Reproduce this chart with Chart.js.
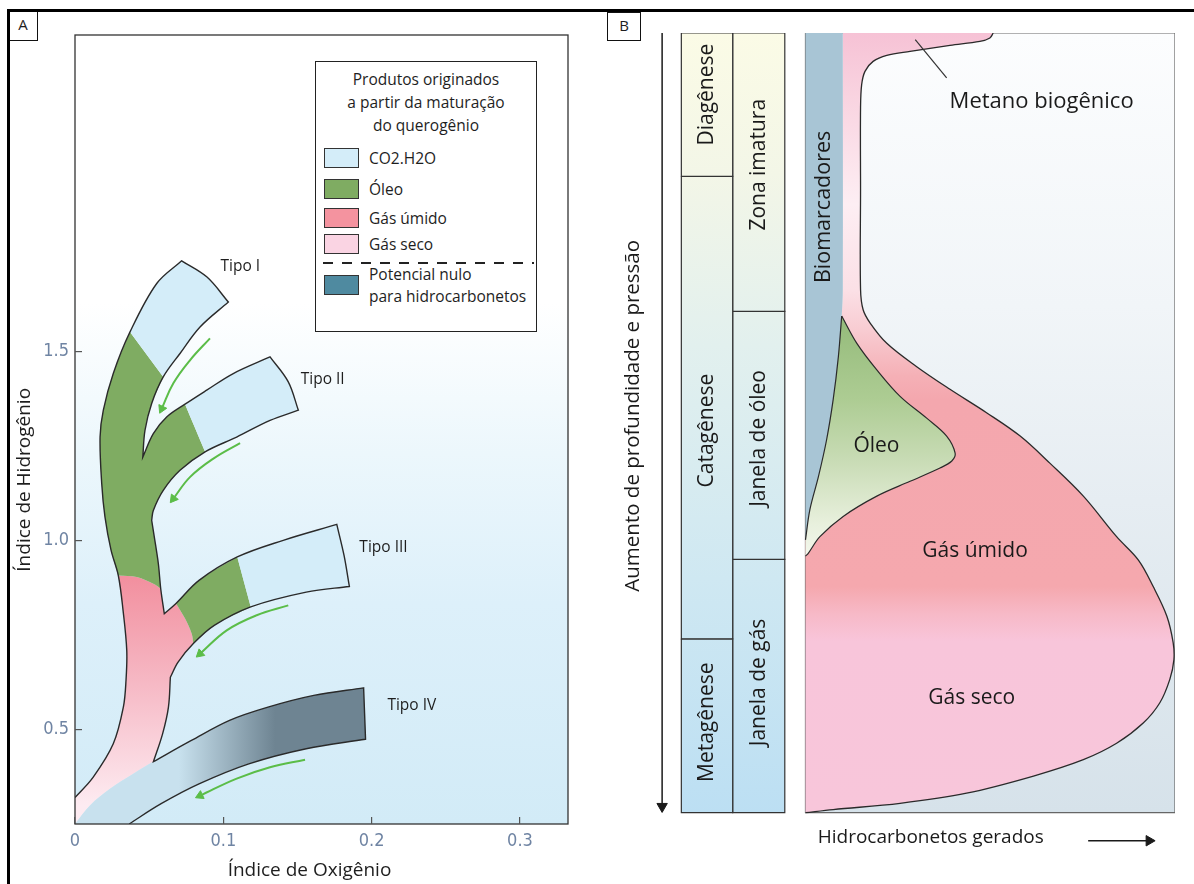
<!DOCTYPE html>
<html lang="pt">
<head>
<meta charset="utf-8">
<title>Maturação do querogênio</title>
<script src="https://cdn.jsdelivr.net/npm/chart.js@4.4.1/dist/chart.umd.min.js"></script>
<style>
  html, body { margin: 0; padding: 0; background: #fff; }
  #page { position: relative; width: 1194px; height: 884px; overflow: hidden; font-family: 'Open Sans', sans-serif; color: #1e1e1e; }
  canvas { position: absolute; top: 0; }
  #chartA { left: 0; }
  #chartB { left: 600px; }
  #frame { position: absolute; left: 7px; top: 9px; right: 0; bottom: 0; border-top: 3px solid #000; border-left: 3px solid #000; pointer-events: none; }
  .tag { position: absolute; box-sizing: border-box; border: 1.5px solid #111; background: #fff; font-size: 15px; line-height: 25px; text-align: center; }
  #tagA { left: 8px; top: 11px; width: 30px; height: 30px; }
  #tagB { left: 607px; top: 12px; width: 34px; height: 29px; }
  #legendA { position: absolute; left: 315px; top: 61px; width: 222px; height: 271px; box-sizing: border-box; border: 1.5px solid #222; background: #fff; font-size: 15.5px; }
  #legendA .title { text-align: center; line-height: 23px; margin-top: 6px; }
  #legendA .row { position: absolute; left: 8px; display: flex; align-items: center; line-height: 22px; white-space: pre-line; }
  #legendA .sw { width: 35px; height: 20px; box-sizing: border-box; border: 1.5px solid #333; margin-right: 10px; flex: none; }
  #legendA .dash { position: absolute; left: 7px; width: 211px; height: 1.5px; background: repeating-linear-gradient(to right, #222 0 10px, transparent 10px 19px); }
</style>
</head>
<body>
<div id="page">
  <canvas id="chartA" width="600" height="884"></canvas>
  <canvas id="chartB" width="594" height="884"></canvas>
  <div id="legendA"></div>
  <div class="tag" id="tagA">A</div>
  <div class="tag" id="tagB">B</div>
  <div id="frame"></div>
</div>
<script>
Chart.defaults.font.family = "'Open Sans', sans-serif";
Chart.defaults.color = '#1e1e1e';

// ---- painel A: índice de hidrogênio x índice de oxigênio ----
const xTicksA = [0, 0.1, 0.2, 0.3];
const yTicksA = [0.5, 1.0, 1.5];

// contorno dos caminhos de maturação (ponto repetido = canto vivo)
const kerogenOutline = [
  [0, 0.320], [0.0123, 0.374], [0.0258, 0.462], [0.0326, 0.559], [0.0344, 0.630], [0.0349, 0.709],
  [0.0324, 0.815], [0.0292, 0.907], [0.0243, 0.974], [0.0202, 1.062], [0.0180, 1.151], [0.0169, 1.273],
  [0.0191, 1.344], [0.0258, 1.441], [0.0371, 1.551], [0.0551, 1.679], [0.0719, 1.739], [0.0719, 1.739],
  [0.0890, 1.696], [0.1034, 1.630], [0.1034, 1.630],
  [0.0843, 1.564], [0.0708, 1.494], [0.0595, 1.432], [0.0517, 1.362], [0.0472, 1.291], [0.0457, 1.220], [0.0457, 1.220],
  [0.0528, 1.282], [0.0618, 1.326], [0.0742, 1.360], [0.0888, 1.397], [0.1067, 1.441], [0.1315, 1.485], [0.1315, 1.485],
  [0.1438, 1.419], [0.1506, 1.344], [0.1506, 1.344],
  [0.1315, 1.317], [0.1090, 1.273], [0.0877, 1.234], [0.0708, 1.185], [0.0595, 1.132], [0.0528, 1.079], [0.0517, 1.053], [0.0517, 1.053],
  [0.0533, 1.013], [0.0562, 0.938], [0.0578, 0.872], [0.0602, 0.806], [0.0602, 0.806],
  [0.0681, 0.833], [0.0836, 0.894], [0.1094, 0.956], [0.1404, 1.000], [0.1765, 1.042], [0.1765, 1.042],
  [0.1814, 0.960], [0.1850, 0.878], [0.1850, 0.878],
  [0.1559, 0.863], [0.1185, 0.824], [0.0939, 0.775], [0.0798, 0.727], [0.0695, 0.678], [0.0643, 0.638], [0.0643, 0.638],
  [0.0630, 0.559], [0.0591, 0.489], [0.0529, 0.415], [0.0529, 0.415],
  [0.0785, 0.471], [0.1042, 0.524], [0.1301, 0.559], [0.1610, 0.590], [0.1946, 0.610], [0.1946, 0.610],
  [0.1959, 0.474], [0.1959, 0.474],
  [0.1559, 0.449], [0.1172, 0.409], [0.0836, 0.356], [0.0578, 0.303], [0.0365, 0.250]
];

const tipoICO2 = [
  [0.0371, 1.551], [0.0371, 1.551], [0.0551, 1.679], [0.0719, 1.739], [0.0719, 1.739], [0.0890, 1.696],
  [0.1034, 1.630], [0.1034, 1.630], [0.0843, 1.564], [0.0708, 1.494], [0.0595, 1.432], [0.0595, 1.432], [0.0371, 1.551]
];
const tipoIICO2 = [
  [0.0742, 1.360], [0.0742, 1.360], [0.0888, 1.397], [0.1067, 1.441], [0.1315, 1.485], [0.1315, 1.485], [0.1438, 1.419],
  [0.1506, 1.344], [0.1506, 1.344], [0.1315, 1.317], [0.1090, 1.273], [0.0877, 1.234], [0.0877, 1.234], [0.0742, 1.360]
];
const tipoIIICO2 = [
  [0.1094, 0.956], [0.1094, 0.956], [0.1404, 1.000], [0.1765, 1.042], [0.1765, 1.042], [0.1814, 0.960],
  [0.1850, 0.878], [0.1850, 0.878], [0.1559, 0.863], [0.1185, 0.824], [0.1185, 0.824], [0.1094, 0.956]
];
const oilTrunk = [
  [0.0371, 1.551], [0.0371, 1.551], [0.0258, 1.441], [0.0191, 1.344], [0.0169, 1.273], [0.0180, 1.151],
  [0.0202, 1.062], [0.0243, 0.974], [0.0292, 0.907], [0.0292, 0.907], [0.0416, 0.903], [0.0528, 0.885],
  [0.0578, 0.872], [0.0578, 0.872], [0.0562, 0.938], [0.0533, 1.013], [0.0517, 1.053], [0.0517, 1.053],
  [0.0528, 1.079], [0.0595, 1.132], [0.0708, 1.185], [0.0877, 1.234], [0.0877, 1.234], [0.0742, 1.360],
  [0.0742, 1.360], [0.0618, 1.326], [0.0528, 1.282], [0.0457, 1.220], [0.0457, 1.220], [0.0472, 1.291],
  [0.0517, 1.362], [0.0595, 1.432], [0.0595, 1.432], [0.0371, 1.551]
];
const oilTipoIII = [
  [0.0681, 0.833], [0.0681, 0.833], [0.0836, 0.894], [0.1094, 0.956], [0.1094, 0.956], [0.1185, 0.824],
  [0.1185, 0.824], [0.0939, 0.775], [0.0798, 0.727], [0.0798, 0.727], [0.0787, 0.753], [0.0742, 0.793], [0.0681, 0.833]
];
const gasTrunk = [
  [0.0292, 0.907], [0.0292, 0.907], [0.0324, 0.815], [0.0349, 0.709], [0.0344, 0.630], [0.0326, 0.559],
  [0.0258, 0.462], [0.0123, 0.374], [0, 0.320], [0, 0.320], [0, 0.25], [0, 0.25], [0.0101, 0.299],
  [0.0236, 0.343], [0.0393, 0.383], [0.0529, 0.415], [0.0529, 0.415], [0.0591, 0.489], [0.0630, 0.559],
  [0.0643, 0.638], [0.0643, 0.638], [0.0695, 0.678], [0.0798, 0.727], [0.0798, 0.727], [0.0787, 0.753],
  [0.0742, 0.793], [0.0681, 0.833], [0.0681, 0.833], [0.0602, 0.806], [0.0602, 0.806], [0.0578, 0.872],
  [0.0578, 0.872], [0.0528, 0.885], [0.0416, 0.903], [0.0292, 0.907]
];
const tipoIV = [
  [0, 0.25], [0, 0.25], [0.0101, 0.299], [0.0236, 0.343], [0.0393, 0.383], [0.0529, 0.415], [0.0785, 0.471],
  [0.1042, 0.524], [0.1301, 0.559], [0.1610, 0.590], [0.1946, 0.610], [0.1946, 0.610], [0.1959, 0.474],
  [0.1959, 0.474], [0.1559, 0.449], [0.1172, 0.409], [0.0836, 0.356], [0.0578, 0.303], [0.0365, 0.250],
  [0.0365, 0.250], [0, 0.25]
];

const arrowI = [[0.0910, 1.534], [0.0775, 1.476], [0.0663, 1.415], [0.0585, 1.348]];
const arrowII = [[0.1113, 1.257], [0.0933, 1.216], [0.0775, 1.167], [0.0663, 1.110]];
const arrowIII = [[0.1438, 0.828], [0.1225, 0.802], [0.1023, 0.762], [0.0843, 0.700]];
const arrowIV = [[0.1551, 0.420], [0.1315, 0.400], [0.1090, 0.370], [0.0843, 0.325]];

const legendTitle = ['Produtos originados', 'a partir da maturação', 'do querogênio'];
const legendLabels = ['CO2.H2O', 'Óleo', 'Gás úmido', 'Gás seco', 'Potencial nulo\npara hidrocarbonetos'];
const legendColors = ['#d4edf9', '#7fac62', '#f4939f', '#fad4e3', '#4f8aa0'];

// ---- painel B: geração de hidrocarbonetos com a profundidade ----
const stageNames = ['Diagênese', 'Catagênese', 'Metagênese'];
const stageLimits = [0, 18.4, 77.7, 100];
const windowNames = ['Zona imatura', 'Janela de óleo', 'Janela de gás'];
const windowLimits = [0, 35.7, 67.5, 100];

const gasEnvelope = [
  [50.8, 0], [49.9, 0.64], [47.2, 1.08], [39.1, 1.59], [28.3, 2.36], [22.0, 2.87], [18.3, 3.64], [16.1, 4.92],
  [15.2, 6.63], [14.9, 9.62], [14.9, 20], [14.9, 32.9], [15.6, 35.5], [17.5, 37.2], [22.0, 39.8], [30.1, 42.8],
  [39.1, 45.7], [49.0, 48.7], [58.1, 51.7], [66.2, 55.2], [75.2, 59.4], [84.2, 64.6], [90.1, 67.6], [94.1, 71.0],
  [97.8, 74.8], [99.5, 78.2], [99.7, 80.4], [98.6, 82.9], [95.9, 85.9], [91.4, 88.5], [84.2, 91.1], [75.2, 93.2],
  [61.7, 95.3], [43.6, 97.5], [25.6, 98.8], [7.5, 99.6], [0, 100]
];
const biomarkerEdge = [[10.1, 0], [10.1, 32.9], [9.8, 36.3], [8.9, 41.5], [7.5, 47.0], [5.7, 52.2], [3.5, 56.9], [1.2, 61.1], [0, 65]];
const oilEdge = [
  [9.8, 36.3], [13.9, 39.8], [19.3, 43.2], [25.6, 46.6], [32.8, 49.4], [38.2, 51.7], [40.5, 53.9], [39.6, 54.9],
  [36.4, 55.8], [28.3, 57.5], [19.3, 59.4], [10.2, 62.0], [3.9, 64.6], [0.8, 66.7], [0, 67.1]
];
const methaneLeader = [[29.7, 0.86], [38.2, 5.77]];
const depthArrow = [[-38.8, 0], [-38.8, 99.2]];
const generatedArrow = [[76.5, 103.6], [93.0, 103.6]];

// ---------- helpers ----------
const toXY = (pts) => pts.map(([x, y]) => ({ x, y }));

function area(points, color, tension) {
  return {
    data: toXY(points), fill: 'shape', backgroundColor: color, borderColor: 'transparent', borderWidth: 0,
    pointRadius: 0, pointHoverRadius: 0, tension: tension === undefined ? 0.35 : tension
  };
}
function stroke(points, color, width, tension) {
  return {
    data: toXY(points), fill: false, borderColor: color, borderWidth: width,
    pointRadius: 0, pointHoverRadius: 0, tension: tension === undefined ? 0.35 : tension
  };
}
function headRotation(c) {
  const pts = c.dataset.data;
  const i = pts.length - 1;
  if (i < 1) return 0;
  const xs = c.chart.scales.x, ys = c.chart.scales.y;
  const dx = xs.getPixelForValue(pts[i].x) - xs.getPixelForValue(pts[i - 1].x);
  const dy = ys.getPixelForValue(pts[i].y) - ys.getPixelForValue(pts[i - 1].y);
  return Math.atan2(dx, -dy) * 180 / Math.PI;
}
function arrow(points, color, width, head) {
  return {
    data: toXY(points), fill: false, borderColor: color, borderWidth: width, tension: 0.4, clip: false,
    pointStyle: 'triangle', pointRotation: headRotation, pointBackgroundColor: color, pointBorderColor: color,
    pointBorderWidth: 1, pointHoverRadius: 0,
    pointRadius: (c) => (c.dataIndex === c.dataset.data.length - 1 ? head : 0)
  };
}
const vGrad = (stops) => (c) => {
  const ch = c.chart;
  if (!ch.chartArea) return stops[0][1];
  const ys = ch.scales.y;
  const p0 = ys.getPixelForValue(stops[0][0]);
  const p1 = ys.getPixelForValue(stops[stops.length - 1][0]);
  const g = ch.ctx.createLinearGradient(0, p0, 0, p1);
  stops.forEach(([v, col]) => g.addColorStop((ys.getPixelForValue(v) - p0) / (p1 - p0), col));
  return g;
};
const hGrad = (stops) => (c) => {
  const ch = c.chart;
  if (!ch.chartArea) return stops[0][1];
  const xs = ch.scales.x;
  const p0 = xs.getPixelForValue(stops[0][0]);
  const p1 = xs.getPixelForValue(stops[stops.length - 1][0]);
  const g = ch.ctx.createLinearGradient(p0, 0, p1, 0);
  stops.forEach(([v, col]) => g.addColorStop((xs.getPixelForValue(v) - p0) / (p1 - p0), col));
  return g;
};
function textLabels(items, font, color) {
  return {
    id: 'textLabels',
    afterDraw(chart) {
      const { ctx, scales: { x, y } } = chart;
      ctx.save();
      ctx.fillStyle = color;
      ctx.textAlign = 'center';
      ctx.textBaseline = 'middle';
      for (const it of items) {
        ctx.save();
        ctx.font = it.font || font;
        ctx.translate(x.getPixelForValue(it.x), y.getPixelForValue(it.y));
        if (it.rotate) ctx.rotate(it.rotate * Math.PI / 180);
        ctx.fillText(it.text, 0, 0);
        ctx.restore();
      }
      ctx.restore();
    }
  };
}

// ---------- painel A ----------
const plotBackground = {
  id: 'plotBackground',
  beforeDraw(chart) {
    const { ctx, chartArea: a } = chart;
    const g = ctx.createLinearGradient(0, a.top, 0, a.bottom);
    g.addColorStop(0, '#ffffff');
    g.addColorStop(0.34, '#ffffff');
    g.addColorStop(0.53, '#ecf7fc');
    g.addColorStop(0.72, '#ddf0fa');
    g.addColorStop(1, '#d2ebf7');
    ctx.save();
    ctx.fillStyle = g;
    ctx.fillRect(a.left, a.top, a.right - a.left, a.bottom - a.top);
    ctx.restore();
  }
};
const plotFrame = {
  id: 'plotFrame',
  afterDatasetsDraw(chart) {
    const { ctx, chartArea: a } = chart;
    ctx.save();
    ctx.strokeStyle = '#333';
    ctx.lineWidth = 1.3;
    ctx.strokeRect(a.left, a.top, a.right - a.left, a.bottom - a.top);
    ctx.restore();
  }
};

const labelsA = [
  { text: 'Tipo I', x: 0.1115, y: 1.725 },
  { text: 'Tipo II', x: 0.1670, y: 1.425 },
  { text: 'Tipo III', x: 0.2080, y: 0.980 },
  { text: 'Tipo IV', x: 0.2271, y: 0.562 },
  { text: 'Índice de Hidrogênio', x: -0.0337, y: 1.16, rotate: -90, font: '19px "Open Sans"' },
  { text: 'Índice de Oxigênio', x: 0.1581, y: 0.127, font: '19px "Open Sans"' }
];

const green = '#5bbd48';
const tickFont = { family: "'Liberation Sans Narrow', 'DejaVu Sans Condensed', sans-serif", size: 18 };

new Chart(document.getElementById('chartA'), {
  type: 'line',
  data: {
    datasets: [
      arrow(arrowI, green, 2, 5),
      arrow(arrowII, green, 2, 5),
      arrow(arrowIII, green, 2, 5),
      arrow(arrowIV, green, 2, 5),
      stroke(kerogenOutline, '#2a2a2a', 1.4),
      area(tipoIV, hGrad([[0.07, '#c8e1ee'], [0.135, '#6e8492']])),
      area(tipoICO2, legendColors[0]),
      area(tipoIICO2, legendColors[0]),
      area(tipoIIICO2, legendColors[0]),
      area(oilTrunk, legendColors[1]),
      area(oilTipoIII, legendColors[1]),
      area(gasTrunk, vGrad([[0.9, '#f2909f'], [0.62, '#f6b9c5'], [0.3, '#fdebf1']]))
    ]
  },
  options: {
    responsive: false,
    animation: false,
    events: [],
    layout: { autoPadding: false, padding: { left: 35, right: 32, top: 35, bottom: 30 } },
    plugins: { legend: { display: false }, tooltip: { enabled: false } },
    scales: {
      x: {
        type: 'linear', min: 0, max: 0.3324,
        afterBuildTicks: (s) => { s.ticks = xTicksA.map((v) => ({ value: v })); },
        afterFit: (s) => { s.height = 30; },
        ticks: { font: tickFont, color: '#6f84a3', padding: 14, callback: (v) => (v === 0 ? '0' : v.toFixed(1)) },
        grid: { drawOnChartArea: false, drawTicks: true, tickLength: -7, color: '#555', lineWidth: 1.2, z: 1 },
        border: { display: false }
      },
      y: {
        type: 'linear', min: 0.25, max: 2.336,
        afterBuildTicks: (s) => { s.ticks = yTicksA.map((v) => ({ value: v })); },
        afterFit: (s) => { s.width = 40; },
        ticks: { font: tickFont, color: '#6f84a3', padding: 13, callback: (v) => v.toFixed(1) },
        grid: { drawOnChartArea: false, drawTicks: true, tickLength: -7, color: '#555', lineWidth: 1.2, z: 1 },
        border: { display: false }
      }
    }
  },
  plugins: [plotBackground, plotFrame, textLabels(labelsA, '15.5px "Open Sans"', '#1e1e1e')]
});

// legenda do painel A
const legendEl = document.getElementById('legendA');
legendEl.innerHTML = '<div class="title">' + legendTitle.join('<br>') + '</div>';
const rowTops = [85, 116, 145, 171, 201];
legendLabels.forEach((label, i) => {
  const row = document.createElement('div');
  row.className = 'row';
  row.style.top = rowTops[i] + 'px';
  row.innerHTML = '<span class="sw" style="background:' + legendColors[i] + '"></span><span></span>';
  row.lastChild.textContent = label;
  legendEl.appendChild(row);
});
const dash = document.createElement('div');
dash.className = 'dash';
dash.style.top = '200px';
legendEl.appendChild(dash);

// ---------- painel B ----------
const colStage = [-33.6, -19.7];
const colWindow = [-19.7, -5.6];
const rect = (x0, x1, d0, d1) => [[x0, d0], [x1, d0], [x1, d1], [x0, d1], [x0, d0]];
const columnFill = vGrad([[0, '#fbfbe6'], [18, '#f3f6e7'], [40, '#e2f0ee'], [70, '#cfe8f2'], [100, '#bcdff3']]);

const cellSets = [];
stageNames.forEach((n, i) => {
  const ds = area(rect(colStage[0], colStage[1], stageLimits[i], stageLimits[i + 1]), columnFill, 0);
  ds.borderColor = '#333'; ds.borderWidth = 1.2;
  cellSets.push(ds);
});
windowNames.forEach((n, i) => {
  const ds = area(rect(colWindow[0], colWindow[1], windowLimits[i], windowLimits[i + 1]), columnFill, 0);
  ds.borderColor = '#333'; ds.borderWidth = 1.2;
  cellSets.push(ds);
});

const gasFill = [[10.1, 0], [10.1, 0], gasEnvelope[0], ...gasEnvelope, [0, 100], [0, 65], ...biomarkerEdge.slice().reverse()];
const biomarkerFill = [[0, 0], [0, 0], biomarkerEdge[0], ...biomarkerEdge, [0, 65], [0, 0]];
const oilFill = [oilEdge[0], ...oilEdge, [0, 67.1], [0, 65], ...biomarkerEdge.slice(2).reverse()];

const box = area(rect(0, 100, 0, 100), vGrad([[0, '#fcfdfe'], [35, '#f1f5f8'], [60, '#e6edf2'], [100, '#d6e2ea']]), 0);
box.borderColor = '#666'; box.borderWidth = 1.2;

const stageLabelDepth = [7.9, 51, 88.4];
const windowLabelDepth = [16.9, 52, 83.3];
const labelsB = [
  { text: 'Metano biogênico', x: 63.9, y: 8.8, font: '22px "Open Sans"' },
  { text: 'Óleo', x: 19.2, y: 53.0 },
  { text: 'Gás úmido', x: 45.9, y: 66.5 },
  { text: 'Gás seco', x: 45.0, y: 85.3 },
  { text: 'Biomarcadores', x: 5.0, y: 22.3, rotate: -90, font: '21.5px "Open Sans"' },
  { text: 'Hidrocarbonetos gerados', x: 33.9, y: 103.2, font: '19px "Open Sans"' },
  { text: 'Aumento de profundidade e pressão', x: -46.7, y: 49.1, rotate: -90, font: '20.5px "Open Sans"' }
]
  .concat(stageNames.map((t, i) => ({ text: t, x: (colStage[0] + colStage[1]) / 2, y: stageLabelDepth[i], rotate: -90 })))
  .concat(windowNames.map((t, i) => ({ text: t, x: (colWindow[0] + colWindow[1]) / 2, y: windowLabelDepth[i], rotate: -90 })));

new Chart(document.getElementById('chartB'), {
  type: 'line',
  data: {
    datasets: [
      arrow(generatedArrow, '#1a1a1a', 1.5, 6),
      arrow(depthArrow, '#1a1a1a', 1.5, 6),
      stroke(methaneLeader, '#333', 1.2, 0),
      stroke(biomarkerEdge.slice(2), '#2a2a2a', 1.2),
      stroke(oilEdge, '#2a2a2a', 1.2),
      stroke(gasEnvelope, '#2a2a2a', 1.3),
      ...cellSets,
      area(oilFill, vGrad([[36, '#93ba79'], [47, '#adcc93'], [55, '#c9dcb6'], [63, '#e8f0dd'], [67, '#f3f7ec']])),
      area(biomarkerFill, '#a8c5d5'),
      area(gasFill, vGrad([[0, '#f6c2d5'], [8, '#f9d3e0'], [22, '#fdeef3'], [33, '#fbe0e6'], [38, '#f8ccd2'],
        [44, '#f5b0b6'], [47, '#f4a7ae'], [71, '#f5a8ae'], [74.5, '#f7b9c7'], [78, '#f8c5da'], [100, '#f8c6da']])),
      box
    ]
  },
  options: {
    responsive: false,
    animation: false,
    events: [],
    layout: { autoPadding: false, padding: { left: 50, right: 19, top: 33, bottom: 30 } },
    plugins: { legend: { display: false }, tooltip: { enabled: false } },
    scales: {
      x: { type: 'linear', min: -42.08, max: 100, display: false },
      y: { type: 'linear', min: 0, max: 105.3, reverse: true, display: false }
    }
  },
  plugins: [textLabels(labelsB, '21px "Open Sans"', '#1a1a1a')]
});
</script>
</body>
</html>
